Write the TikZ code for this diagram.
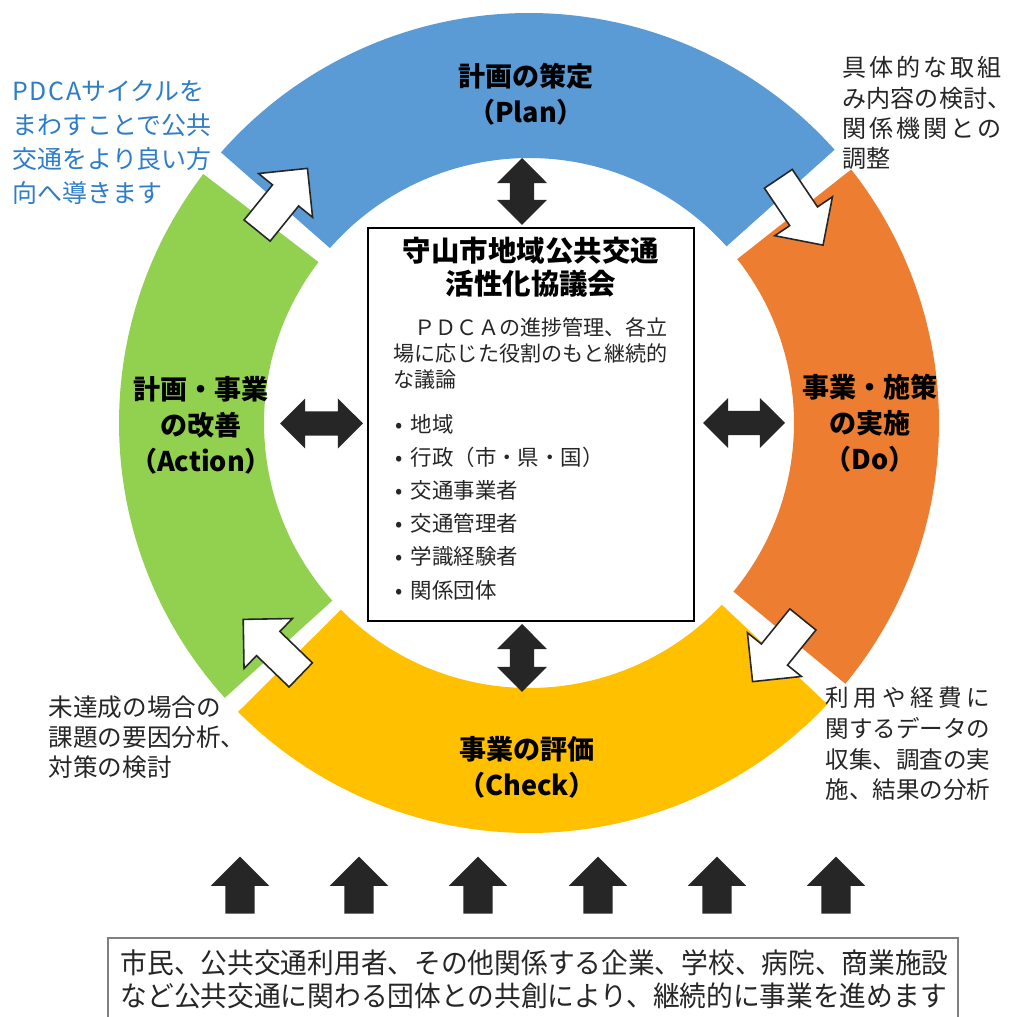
\documentclass[tikz,border=0pt]{standalone}
\usepackage{fontspec}
\setmainfont{Noto Sans CJK JP}
\usetikzlibrary{shapes.arrows}
\definecolor{planBlue}{HTML}{5B9BD5}
\definecolor{doOrange}{HTML}{ED7D31}
\definecolor{checkGold}{HTML}{FFC000}
\definecolor{actGreen}{HTML}{92D050}
\definecolor{noteBlue}{HTML}{2E7DC8}
\definecolor{inkDark}{HTML}{262626}
\definecolor{frameGray}{HTML}{808080}
\tikzset{
  stage/.style={font=\fontsize{7.7pt}{10.2pt}\selectfont\bfseries, align=center, text=black, inner sep=0pt},
  note/.style={font=\fontsize{6.8pt}{8.6pt}\selectfont, align=left, text=inkDark, anchor=west, inner sep=0pt},
  link/.style={double arrow, fill=inkDark, inner sep=1.15mm, minimum width=4.9mm,
               double arrow head extend=1.3mm, double arrow tip angle=90},
  turn/.style={single arrow, draw=inkDark, line width=0.45pt, fill=white, inner sep=1.6mm,
               minimum height=8mm, minimum width=6.8mm, single arrow head extend=1.8mm},
  push/.style={single arrow, fill=inkDark, rotate=90, inner sep=1.4mm, minimum height=5.7mm,
               minimum width=5.7mm, single arrow head extend=1.45mm},
}

\begin{document}
\begin{tikzpicture}[x=0.1mm, y=0.1mm]
\path[use as bounding box, clip] (0,0) rectangle (1009,1017);
\fill[white] (0,0) rectangle (1009,1017);
% PDCA ring
\begin{scope}[shift={(529,594)}]
\fill[planBlue] (41.8:410) arc[start angle=41.8, end angle=138.7, radius=410]
  -- (138.7:265) arc[start angle=138.7, end angle=41.8, radius=265] -- cycle;
\fill[actGreen] (142.6:410) arc[start angle=142.6, end angle=222.1, radius=410]
  -- (222.1:265) arc[start angle=222.1, end angle=142.6, radius=265] -- cycle;
\fill[checkGold] (224.8:410) arc[start angle=224.8, end angle=316.7, radius=410]
  -- (316.7:265) arc[start angle=316.7, end angle=224.8, radius=265] -- cycle;
\fill[doOrange] (320.5:410) arc[start angle=320.5, end angle=398.2, radius=410]
  -- (398.2:265) arc[start angle=398.2, end angle=320.5, radius=265] -- cycle;
\end{scope}
\node[stage] (plan) at (526,922.5) {計画の策定\\（Plan）};
\node[stage] (do) at (870,594) {事業・施策\\の実施\\（Do）};
\node[stage] (check) at (527,249.5) {事業の評価\\（Check）};
\node[stage] (action) at (201,592) {計画・事業\\の改善\\（Action）};
% turning arrows
\node[turn, rotate=51] (actToPlan) at (277,811) {};
\node[turn, rotate=-56] (planToDo) at (796,812) {};
\node[turn, rotate=-129] (doToCheck) at (783,373) {};
\node[turn, rotate=136] (checkToAct) at (278,364) {};
% council
\node[draw=black, line width=0.6pt, minimum width=32.6mm, minimum height=39.3mm, inner sep=0pt]
  (council) at (531,592.5) {};
\node[font=\fontsize{8.1pt}{9.4pt}\selectfont\bfseries, align=center, inner sep=0pt]
  (councilname) at (531,749.5) {守山市地域公共交通\\活性化協議会};
\node[note, font=\fontsize{6pt}{7.3pt}\selectfont] (councilrole) at (393,663.5)
  {　ＰＤＣＡの進捗管理、各立\\場に応じた役割のもと継続的\\な議論};
\node[note, font=\fontsize{6.1pt}{9.45pt}\selectfont] (members) at (395,510)
  {\makebox[1.5mm][l]{•}地域\\\makebox[1.5mm][l]{•}行政（市・県・国）\\\makebox[1.5mm][l]{•}交通事業者\\
   \makebox[1.5mm][l]{•}交通管理者\\\makebox[1.5mm][l]{•}学識経験者\\\makebox[1.5mm][l]{•}関係団体};
\node[link, rotate=90, minimum height=6.7mm] (toPlan) at (522,825.5) {};
\node[link, rotate=90, minimum height=6.8mm] (toCheck) at (522,359) {};
\node[link, minimum height=8.3mm] (toAction) at (321.5,593.5) {};
\node[link, minimum height=8.2mm] (toDo) at (744,594) {};
% notes
\node[note, font=\fontsize{7.1pt}{9.75pt}\selectfont, text=noteBlue] (aim) at (12,874.5)
  {{\addfontfeature{LetterSpace=6}PDCA}サイクルを\\まわすことで公共\\交通をより良い方\\向へ導きます};
\node[note, font=\fontsize{6.85pt}{8.6pt}\selectfont] (planNote) at (842,904)
  {{\addfontfeature{LetterSpace=12}具体的な取組}\\み内容の検討、\\{\addfontfeature{LetterSpace=12}関係機関との}\\調整};
\node[note, font=\fontsize{6.7pt}{8.73pt}\selectfont] (doNote) at (825,273)
  {{\addfontfeature{LetterSpace=20}利用や経費に}\\関するデータの\\収集、調査の実\\施、結果の分析};
\node[note, font=\fontsize{7pt}{8.6pt}\selectfont] (checkNote) at (48,280)
  {未達成の場合の\\課題の要因分析、\\対策の検討};
% citizens
\node[push] (up1) at (240,124.5) {};
\node[push] (up2) at (359,124.5) {};
\node[push] (up3) at (478,124.5) {};
\node[push] (up4) at (598,124.5) {};
\node[push] (up5) at (717,124.5) {};
\node[push] (up6) at (836,124.5) {};
\node[draw=frameGray, line width=0.5pt, anchor=north west, minimum width=85mm, minimum height=10mm, inner sep=0pt]
  (citizens) at (107,80) {};
\node[note, font=\fontsize{8pt}{9.4pt}\selectfont, xscale=0.95] (citizenText) at (120,38)
  {市民、公共交通利用者、その他関係する企業、学校、病院、商業施設\\など公共交通に関わる団体との共創により、継続的に事業を進めます};
\end{tikzpicture}
\end{document}
